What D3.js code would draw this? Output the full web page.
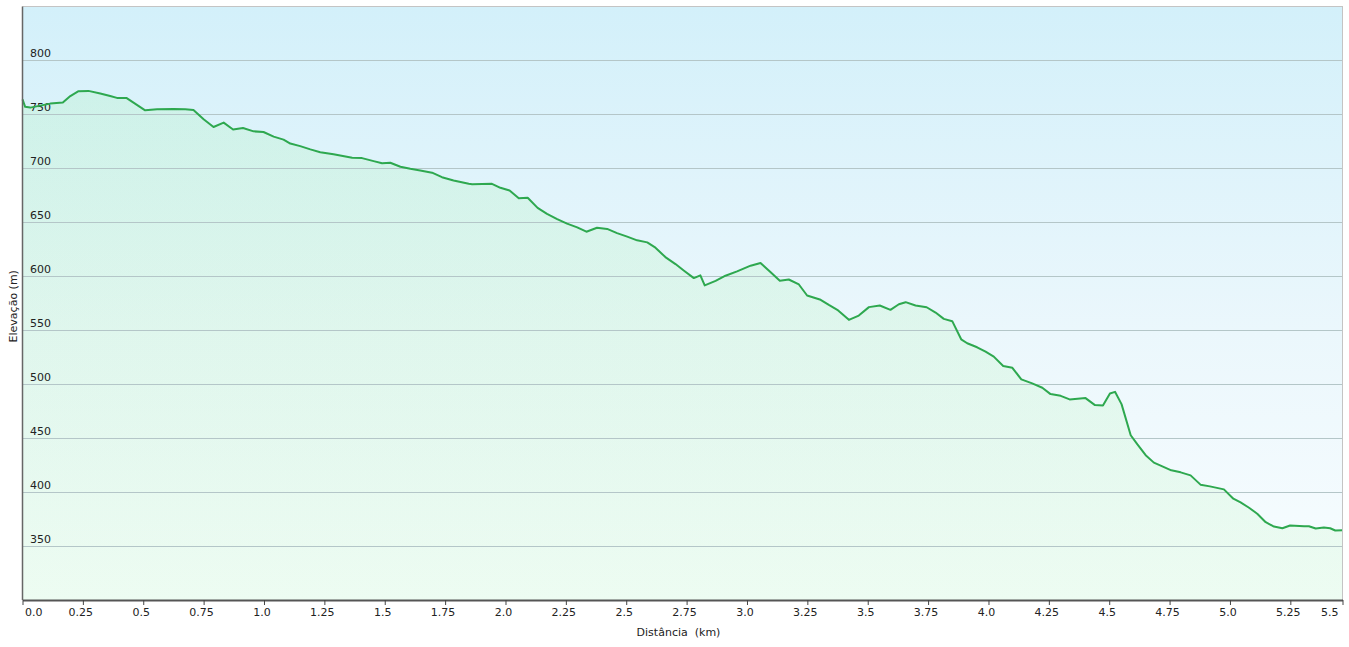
<!DOCTYPE html>
<html>
<head>
<meta charset="utf-8">
<script src="https://cdn.jsdelivr.net/npm/d3@7"></script>
<style>
  html, body { margin: 0; padding: 0; background: #ffffff; }
  svg { display: block; }
  text { font-family: "DejaVu Sans", Verdana, sans-serif; font-size: 11px; fill: #222; }
</style>
</head>
<body>
<svg id="chart" width="1349" height="647"></svg>
<script>
// Distance (km)
const distance = [0.0, 0.011, 0.032, 0.115, 0.167, 0.198, 0.232, 0.273, 0.322, 0.363, 0.391, 0.430,
  0.508, 0.557, 0.626, 0.674, 0.708, 0.750, 0.791, 0.833, 0.872, 0.913, 0.957, 0.998,
  1.040, 1.081, 1.109, 1.150, 1.192, 1.233, 1.288, 1.365, 1.406, 1.454, 1.489, 1.523,
  1.565, 1.606, 1.647, 1.696, 1.737, 1.785, 1.848, 1.862, 1.944, 1.979, 2.017, 2.055,
  2.092, 2.133, 2.172, 2.214, 2.255, 2.297, 2.335, 2.379, 2.421, 2.462, 2.504, 2.545,
  2.587, 2.621, 2.662, 2.704, 2.738, 2.780, 2.807, 2.825, 2.870, 2.911, 2.959, 3.015,
  3.056, 3.097, 3.136, 3.173, 3.215, 3.249, 3.305, 3.339, 3.374, 3.422, 3.463, 3.505,
  3.550, 3.594, 3.629, 3.657, 3.698, 3.744, 3.781, 3.815, 3.850, 3.887, 3.912, 3.953,
  3.988, 4.022, 4.061, 4.099, 4.136, 4.181, 4.223, 4.257, 4.299, 4.336, 4.402, 4.441,
  4.474, 4.503, 4.524, 4.551, 4.589, 4.616, 4.651, 4.685, 4.720, 4.757, 4.796, 4.837,
  4.878, 4.917, 4.975, 5.014, 5.044, 5.079, 5.113, 5.148, 5.182, 5.217, 5.249, 5.307,
  5.327, 5.355, 5.389, 5.415, 5.436, 5.466];
// Elevation (m)
const elevation = [764, 757, 756.3, 760, 761, 767, 771.5, 771.8, 769.3, 767, 765.3, 765.3,
  753.8, 754.7, 755, 754.7, 754, 745.5, 738.3, 742.4, 736, 737.4, 734.3, 733.7,
  729.4, 726.6, 723, 720.6, 717.6, 715, 713, 709.8, 709.5, 706.7, 704.8, 705.2,
  701.5, 699.6, 698, 696, 691.8, 688.8, 685.7, 685.3, 685.7, 682, 679.5, 672.3,
  672.7, 663.4, 657.8, 653, 648.8, 645.3, 641.3, 645, 643.9, 640, 636.7, 633.3,
  631.4, 626.5, 617.8, 611.3, 605.4, 598.3, 600.8, 591.5, 595.8, 600.5, 604.5, 609.8,
  612.3, 604, 595.8, 597, 592.4, 582.2, 578.2, 573.5, 568.9, 559.6, 563.6, 571.4,
  572.9, 568.9, 574.1, 576, 572.9, 571.3, 566.4, 560.5, 558.4, 541.6, 537.9, 534.2,
  530.1, 525.5, 516.8, 515.2, 504.4, 500.7, 496.7, 490.8, 489.2, 485.9, 487.1, 480.6,
  480.3, 491.4, 492.9, 481.5, 452.7, 444.4, 434.2, 427.3, 423.9, 420.2, 418.3, 415.5,
  406.9, 405.3, 402.5, 393.9, 390.4, 385.5, 379.9, 372.1, 368.1, 366.5, 369, 368.4,
  368.4, 366.3, 367.2, 366.5, 364.4, 364.7];
const xTicks = [0, 0.25, 0.5, 0.75, 1.0, 1.25, 1.5, 1.75, 2.0, 2.25, 2.5, 2.75, 3.0, 3.25,
  3.5, 3.75, 4.0, 4.25, 4.5, 4.75, 5.0, 5.25];
const xTickLabels = ["0.0", "0.25", "0.5", "0.75", "1.0", "1.25", "1.5", "1.75", "2.0", "2.25",
  "2.5", "2.75", "3.0", "3.25", "3.5", "3.75", "4.0", "4.25", "4.5", "4.75", "5.0", "5.25"];
const xEndLabel = "5.5";
const yTicks = [350, 400, 450, 500, 550, 600, 650, 700, 750, 800];
const xTitle = "Distância\u00a0\u00a0(km)";
const yTitle = "Elevação (m)";

const data = distance.map((d, i) => ({x: d, y: elevation[i]}));

const L = 22.5, R = 1342.5, T = 6.5, B = 600;
const svg = d3.select("#chart");
const x = d3.scaleLinear().domain([0, d3.max(distance)]).range([L, R]);
const y = d3.scaleLinear().domain([300, 850]).range([B, T]);

const defs = svg.append("defs");
const bg = defs.append("linearGradient").attr("id", "bg").attr("x1", 0).attr("y1", 0).attr("x2", 0).attr("y2", 1);
bg.append("stop").attr("offset", "0%").attr("stop-color", "#d3f0fa");
bg.append("stop").attr("offset", "55%").attr("stop-color", "#ebf7fc");
bg.append("stop").attr("offset", "100%").attr("stop-color", "#f8fdff");
const ag = defs.append("linearGradient").attr("id", "ag").attr("gradientUnits", "userSpaceOnUse")
  .attr("x1", 0).attr("y1", T).attr("x2", 0).attr("y2", B);
ag.append("stop").attr("offset", "0%").attr("stop-color", "rgb(110,240,90)").attr("stop-opacity", 0.11);
ag.append("stop").attr("offset", "100%").attr("stop-color", "rgb(110,240,90)").attr("stop-opacity", 0.08);

svg.append("rect").attr("x", L).attr("y", T).attr("width", R - L).attr("height", B - T)
  .attr("fill", "url(#bg)");

// area
svg.append("path").datum(data)
  .attr("d", d3.area().x(d => x(d.x)).y0(B).y1(d => y(d.y)))
  .attr("fill", "url(#ag)");

// gridlines
svg.append("g").selectAll("line").data(yTicks).join("line")
  .attr("x1", L).attr("x2", R)
  .attr("y1", d => Math.round(y(d)) + 0.5).attr("y2", d => Math.round(y(d)) + 0.5)
  .attr("stroke", "#b4c6c8").attr("stroke-width", 1.2);

// y labels
svg.append("g").selectAll("text").data(yTicks).join("text")
  .attr("x", 30).attr("y", d => y(d) - 3)
  .text(d => d);

// line
svg.append("path").datum(data)
  .attr("d", d3.line().x(d => x(d.x)).y(d => y(d.y)))
  .attr("fill", "none").attr("stroke", "#2ea84f").attr("stroke-width", 2)
  .attr("stroke-linejoin", "round");

// borders
svg.append("line").attr("x1", L).attr("x2", R + 0.5).attr("y1", T).attr("y2", T)
  .attr("stroke", "#c4c4c4").attr("stroke-width", 1);
svg.append("line").attr("x1", R).attr("x2", R).attr("y1", T).attr("y2", B)
  .attr("stroke", "#c4c4c4").attr("stroke-width", 1);
svg.append("line").attr("x1", L).attr("x2", L).attr("y1", T).attr("y2", B)
  .attr("stroke", "#666").attr("stroke-width", 1.5);

// x axis
const xAxis = d3.axisBottom(x).tickValues(xTicks.concat([d3.max(distance)]))
  .tickSize(5).tickSizeOuter(0)
  .tickFormat((d, i) => i < xTickLabels.length ? xTickLabels[i] : xEndLabel);
const gx = svg.append("g").attr("transform", `translate(0,${B})`).call(xAxis);
gx.select(".domain").attr("stroke", "#555").attr("stroke-width", 2);
gx.selectAll(".tick line").attr("stroke", "#444").attr("stroke-width", 1);
gx.selectAll(".tick text")
  .attr("font-family", "DejaVu Sans, Verdana, sans-serif").attr("font-size", 11)
  .attr("fill", "#222").attr("y", 8).attr("dy", "0.71em")
  .attr("dx", (d, i) => i === 0 ? 0 : -2.5)
  .attr("text-anchor", (d, i) => i === 0 ? "start" : (i === xTickLabels.length ? "end" : "middle"))
  .attr("x", (d, i) => i === 0 ? 2 : (i === xTickLabels.length ? -2 : 0));

// titles
svg.append("text").attr("x", (L + R) / 2 - 4).attr("y", 636).attr("text-anchor", "middle").text(xTitle);
svg.append("text").attr("transform", `translate(17,${(T + B) / 2 + 3}) rotate(-90)`)
  .attr("text-anchor", "middle").text(yTitle);
</script>
</body>
</html>
